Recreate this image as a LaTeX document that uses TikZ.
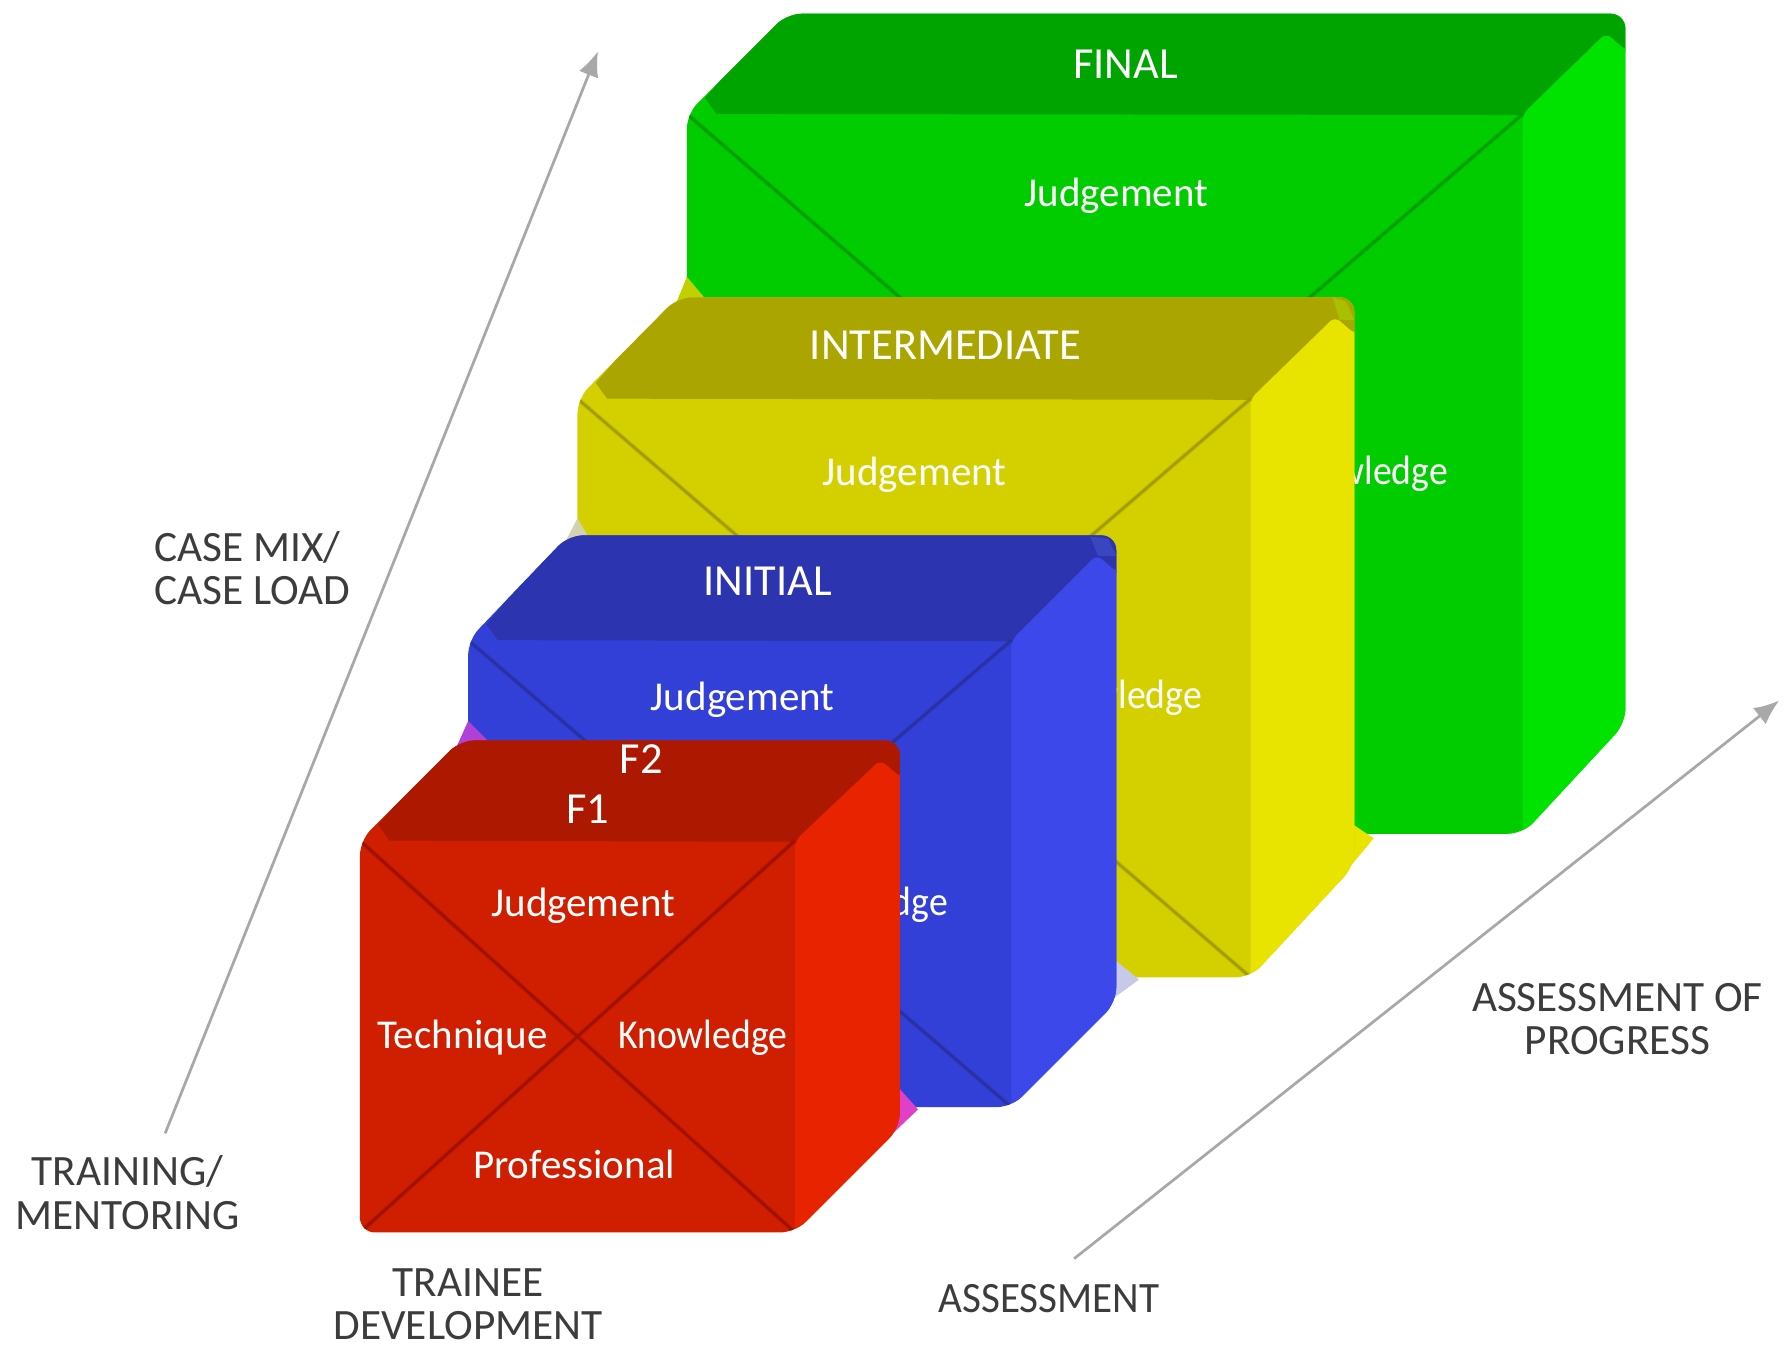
\documentclass[tikz,border=0pt]{standalone}
\usepackage{fontspec}
\setmainfont{Carlito}
\usetikzlibrary{arrows.meta}
\definecolor{gF}{HTML}{00CC00}\definecolor{gS}{HTML}{00E200}\definecolor{gT}{HTML}{00A400}\definecolor{gL}{HTML}{009C00}
\definecolor{yF}{HTML}{D4D000}\definecolor{yS}{HTML}{E8E400}\definecolor{yT}{HTML}{ABA500}\definecolor{yL}{HTML}{A09C00}
\definecolor{bF}{HTML}{3340D8}\definecolor{bS}{HTML}{3C48EA}\definecolor{bT}{HTML}{2C34B0}\definecolor{bL}{HTML}{2830A4}
\definecolor{rF}{HTML}{D01E00}\definecolor{rS}{HTML}{E82400}\definecolor{rT}{HTML}{AC1800}\definecolor{rL}{HTML}{A01000}
\definecolor{axisgrey}{HTML}{A8A8A8}\definecolor{labelgrey}{HTML}{3C3C3C}
\definecolor{wedgeGY}{HTML}{C0D000}\definecolor{wedgeYB}{HTML}{D2D2B0}\definecolor{wedgeLav}{HTML}{C8C8E8}
\definecolor{wedgePur}{HTML}{B040D8}\definecolor{wedgeMag}{HTML}{E040C8}
\definecolor{cornerY}{HTML}{A8C000}\definecolor{cornerB}{HTML}{3A46C0}
\newcommand\narrowtext[1]{\scalebox{.92}[1]{#1}}
\tikzset{
  facetext/.style={text=white,font=\fontsize{18}{18}\selectfont,inner sep=0pt},
  facecaps/.style={text=white,font=\fontsize{19.5}{18}\selectfont,inner sep=0pt},
  axislabel/.style={text=labelgrey,font=\fontsize{19}{19}\selectfont,inner sep=0pt,align=center},
  axisline/.style={draw=axisgrey,line width=1.2pt,-{Latex[length=11pt,width=9pt]}}
}
% #1 left #2 front right #3 back right #4 back top #5 front top #6 bottom #7 back bottom #8 colour prefix #9 extent of the falling diagonal
\newcommand\cubeshape[9]{%
  \begin{scope}
    \clip[rounded corners=6.5pt] (#1,#5+60) -- (#1,#5) -- (#1+88,#4) -- (#3,#4) -- (#3,#7) -- (#2,#6) -- (#1,#6) -- cycle;
    \fill[#8F] (#1-10,#4-10) rectangle (#3+10,#6+10);
    \fill[#8T] (#1+26,#5) -- (#1+16,#5-14) -- (#1+88,#4-8) -- (#3+5,#4-8) -- (#3+5,#4+30) -- (#2,#5+1) -- cycle;
    \fill[#8S,rounded corners=3pt] (#2,#5) -- (#3-17,#4+17) -- (#3,#4+32) -- (#3+20,#4+32) -- (#3+20,#6+10) -- (#2,#6+10) -- cycle;
    \draw[#8L,line width=2pt,opacity=.4] (#1,#5) -- ({#1+#9*(#2-#1)},{#5+#9*(#6-#5)}) (#2,#5) -- (#1,#6);
    \draw[#8L,line width=1pt] (#1,#5) -- ({#1+#9*(#2-#1)},{#5+#9*(#6-#5)}) (#2,#5) -- (#1,#6);
  \end{scope}}
\begin{document}
\begin{tikzpicture}[x=.5pt,y=-.5pt]
\useasboundingbox (0,0) rectangle (1568,1185);
% green
\cubeshape{603}{1337}{1427}{12}{100}{732}{635}{g}{.5}
\node[facecaps] (gtitle) at (988,56) {FINAL};
\node[facetext] (gjudge) at (980,172) {Judgement};
\node[facetext] (gknow) at (1197,416) {\narrowtext{Knowledge}};
\fill[wedgeGY] (603,243) -- (619,262) -- (590,275) -- cycle;
\fill[yS] (1188,724) -- (1206,736) -- (1176,772) -- cycle;
% yellow
\cubeshape{507}{1098}{1189}{261}{350}{858}{760}{y}{1}
\fill[cornerY] (1170,261) -- (1182,265) -- (1189,281) -- (1176,281) -- cycle;
\node[facecaps] (ytitle) at (830,303) {INTERMEDIATE};
\node[facetext] (yjudge) at (803,417) {Judgement};
\node[facetext] (yknow) at (981,613) {\narrowtext{Knowledge}};
\fill[wedgeYB] (507,455) -- (517,472) -- (494,480) -- cycle;
\fill[wedgeLav] (978,842) -- (1000,860) -- (978,876) -- cycle;
% blue
\cubeshape{411}{888}{980}{470}{562}{972}{880}{b}{1}
\fill[cornerB] (957,471) -- (973,473) -- (980,488) -- (964,488) -- cycle;
\node[facecaps] (btitle) at (674,510) {INITIAL};
\node[facetext] (bjudge) at (652,614) {Judgement};
\node[facetext] (bknow) at (758,794) {\narrowtext{Knowledge}};
\fill[wedgePur] (411,633) -- (430,652) -- (398,662) -- cycle;
\fill[wedgeMag] (788,954) -- (806,974) -- (785,994) -- cycle;
% red
\cubeshape{316}{698}{790}{650}{738}{1082}{990}{r}{1}
\node[facecaps] (rtwo) at (563,666) {F2};
\node[facecaps] (rone) at (516,710) {F1};
\node[facetext] (rjudge) at (512,795) {Judgement};
\node[facetext] (rtech) at (406,911) {Technique};
\node[facetext] (rknow) at (617,911) {\narrowtext{Knowledge}};
\node[facetext] (rprof) at (504,1022) {Professional};
% axes
\coordinate (upstart) at (145,995);
\coordinate (upend) at (525,45);
\coordinate (rightstart) at (943,1105);
\coordinate (rightend) at (1562,615);
\draw[axisline] (upstart) -- (upend);
\draw[axisline] (rightstart) -- (rightend);
% labels
\node[axislabel,align=left,anchor=west] (casemix) at (135,499) {CASE MIX/\\CASE LOAD};
\node[axislabel] (training) at (112,1047) {TRAINING/\\MENTORING};
\node[axislabel] (trainee) at (411,1145) {TRAINEE\\DEVELOPMENT};
\node[axislabel] (assess) at (921,1140) {\scalebox{.95}[1]{ASSESSMENT}};
\node[axislabel] (progress) at (1420,895) {ASSESSMENT OF\\PROGRESS};
\end{tikzpicture}
\end{document}
